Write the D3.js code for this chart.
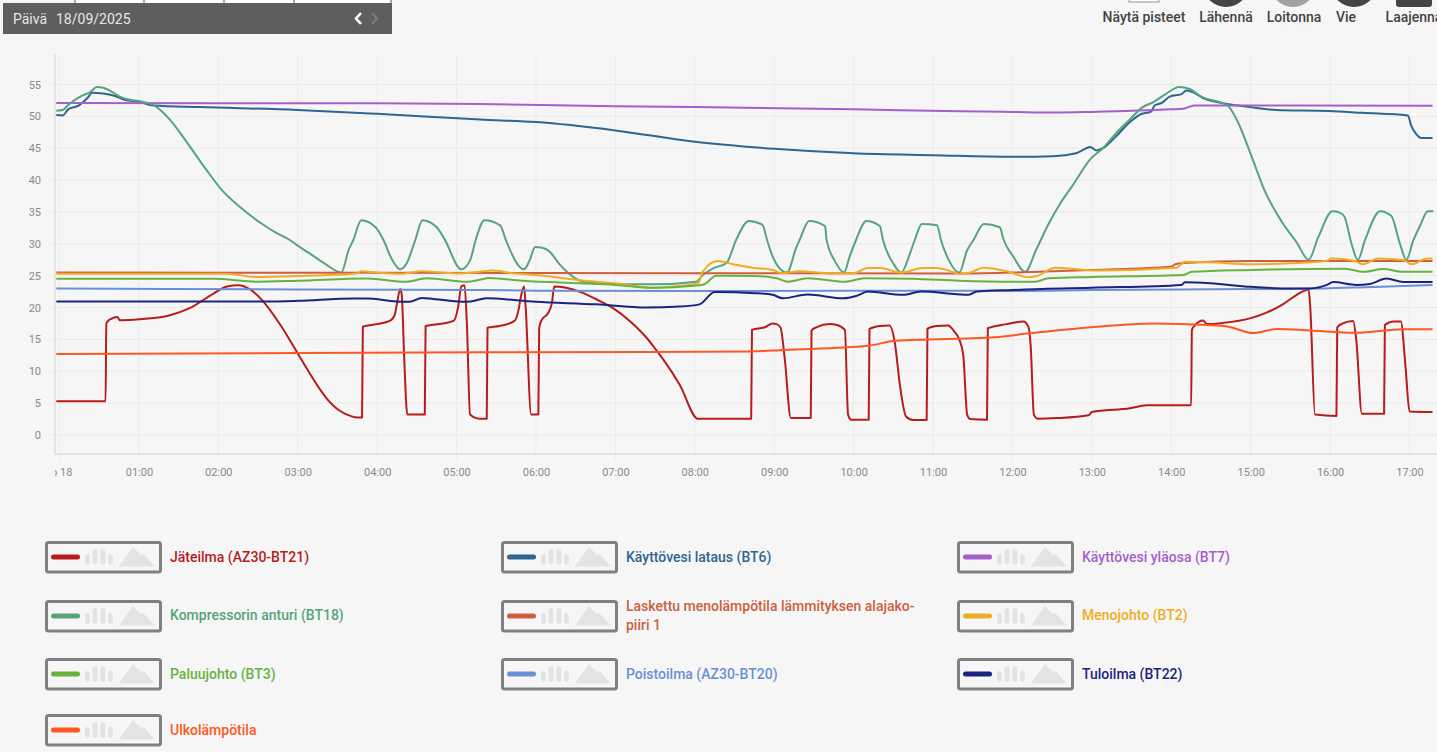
<!DOCTYPE html>
<html><head><meta charset="utf-8">
<script src="https://cdn.jsdelivr.net/npm/d3@7"></script>
<style>
html,body{margin:0;padding:0;background:#f6f6f6;overflow:hidden;width:1437px;height:752px}
svg{display:block;font-family:Roboto,sans-serif}
</style></head><body><svg id="c" width="1437" height="752"></svg>
<script>
// [hour of day, °C]
const jateilma=[[-0.04,5.3],[0.58,5.3],[0.59,17.6],[0.68,18.4],[0.73,18.5],[0.76,18],[1,18.15],[1.39,18.8],[1.64,19.9],[1.94,22.2],[2.11,23.3],[2.25,23.5],[2.4,22.85],[2.57,20.9],[2.78,17.3],[3,12.8],[3.2,8.7],[3.28,7.15],[3.36,5.8],[3.45,4.6],[3.53,3.8],[3.62,3.2],[3.72,2.8],[3.81,2.75],[3.82,17],[3.99,17.4],[4.16,17.9],[4.22,18.8],[4.25,20.65],[4.29,22.9],[4.31,22],[4.34,12.3],[4.38,3.2],[4.6,3.2],[4.61,17.1],[4.83,17.5],[4.97,18],[5.02,20.1],[5.06,23.3],[5.1,23.5],[5.13,17.5],[5.17,3.2],[5.29,2.55],[5.38,2.55],[5.39,16.85],[5.54,17.1],[5.73,17.9],[5.78,19.6],[5.81,21.7],[5.85,23.3],[5.87,20.1],[5.94,3.2],[6.03,3.2],[6.04,16.75],[6.07,18],[6.15,19.1],[6.2,20.65],[6.23,23.3],[6.38,23.1],[6.59,22.3],[6.76,21.3],[6.97,19.9],[7.18,17.9],[7.39,15.3],[7.51,13.4],[7.6,11.9],[7.81,7.9],[8.04,2.55],[8.71,2.55],[8.72,16.5],[8.88,16.9],[8.98,17.5],[9.03,17.4],[9.08,16.85],[9.13,12.3],[9.21,2.65],[9.46,2.65],[9.47,16.4],[9.53,16.9],[9.7,17.4],[9.78,17.3],[9.89,16.5],[9.93,3.2],[9.97,2.4],[10.19,2.4],[10.2,16.65],[10.33,17.1],[10.45,17.2],[10.52,14.4],[10.58,8.1],[10.66,2.9],[10.75,2.35],[10.92,2.35],[10.93,16.7],[11.04,17.1],[11.19,17.2],[11.27,16.2],[11.33,15],[11.38,12.6],[11.43,3.2],[11.47,2.5],[11.68,2.4],[11.69,16.75],[11.93,17.4],[12.14,17.8],[12.2,17],[12.23,13.9],[12.27,3.2],[12.32,2.55],[12.56,2.65],[12.96,3.1],[13,3.6],[13.48,4.2],[13.69,4.65],[14.25,4.65],[14.26,16.5],[14.29,17.1],[14.4,17.95],[14.45,17.4],[14.66,17.6],[14.99,18.3],[15.2,19.2],[15.41,20.55],[15.58,22],[15.73,22.85],[15.75,20.1],[15.81,3.2],[16.08,3],[16.09,16.9],[16.16,17.5],[16.29,17.9],[16.33,14.9],[16.4,3.35],[16.68,3.35],[16.69,17.25],[16.8,17.8],[16.89,17.8],[16.95,10.7],[17,3.7],[17.29,3.6]];
const kayttovesiLataus=[[-0.04,50.2],[0.04,50.15],[0.11,51.1],[0.24,51.7],[0.36,53],[0.41,53.7],[0.55,53.6],[0.7,53.2],[0.83,52.55],[1,52.3],[1.18,51.7],[1.77,51.45],[3,51],[4,50.4],[5.3,49.5],[6,49.1],[7,47.8],[8,46],[9,44.9],[10,44.2],[11,43.9],[12,43.65],[12.51,43.75],[12.8,44.2],[12.93,45],[12.98,45.2],[13.06,44.65],[13.14,45],[13.3,46.8],[13.47,49],[13.6,50.25],[13.75,50.8],[13.79,51.7],[13.88,52.1],[13.98,53.1],[14.13,53.5],[14.19,54.05],[14.27,53.8],[14.42,52.75],[14.59,52.2],[14.73,51.9],[14.99,51.45],[15.32,51],[15.99,50.85],[16.41,50.55],[16.98,50.15],[17.02,48.6],[17.08,47.3],[17.15,46.6],[17.29,46.6]];
const kayttovesiYlaosa=[[-0.04,52.1],[2,52.05],[4,52.05],[5.3,51.95],[7,51.6],[8,51.45],[10,51.1],[11.34,50.8],[12,50.7],[12.5,50.6],[13,50.7],[14,51.1],[14.15,51.2],[14.29,51.7],[15,51.7],[17.29,51.65]];
const kompressori=[[-0.04,50.9],[0.04,51],[0.11,51.8],[0.26,53.1],[0.39,53.85],[0.47,54.6],[0.55,54.5],[0.66,53.85],[0.76,53.1],[0.87,52.65],[1,52.4],[1.18,51.8],[1.39,49.5],[1.6,46],[1.85,41.6],[2.04,38.5],[2.25,36],[2.53,33.3],[2.73,31.7],[2.9,30.6],[2.99,29.8],[3.15,28.5],[3.34,26.9],[3.55,25.5],[3.64,29],[3.7,30.6],[3.8,33.7],[3.98,32.6],[4.08,30.6],[4.18,27.7],[4.29,26],[4.37,26.9],[4.48,30.6],[4.57,33.7],[4.75,32.6],[4.85,30.7],[5.06,26],[5.17,27.4],[5.25,31],[5.35,33.7],[5.55,32.9],[5.62,30.6],[5.85,26],[5.92,27.4],[5.99,29.5],[6.08,29.4],[6.17,28.8],[6.29,26.9],[6.4,25.5],[6.59,24.06],[7,23.7],[7.47,23.64],[8.02,24.06],[8.1,25.1],[8.23,26.15],[8.4,27],[8.52,30.6],[8.68,33.6],[8.85,33],[8.91,30.6],[8.98,28],[9.16,25.5],[9.28,29.5],[9.32,30.6],[9.44,33.6],[9.64,32.8],[9.66,30.6],[9.76,27.4],[9.88,25.5],[9.95,28],[10.03,30.6],[10.16,33.6],[10.33,32.8],[10.37,30.6],[10.5,26.9],[10.6,25.5],[10.71,28.5],[10.77,30.6],[10.86,33.1],[11.05,32.9],[11.1,30.6],[11.2,27.4],[11.33,25.5],[11.43,29],[11.51,30.6],[11.64,33.1],[11.84,32.6],[11.89,30.6],[12.01,28],[12.16,25.6],[12.3,29.1],[12.45,33],[12.59,36.1],[12.76,39.2],[12.99,43.4],[13.14,45],[13.3,47.3],[13.47,49.4],[13.64,51.45],[13.77,52.2],[13.93,53.5],[14.1,54.6],[14.23,54.3],[14.39,53],[14.56,52.4],[14.71,51.7],[14.82,49.6],[15.03,43.1],[15.17,38.5],[15.4,33.3],[15.58,30.2],[15.73,27.5],[15.85,31],[16.03,35.1],[16.12,34.9],[16.18,34.3],[16.27,30],[16.35,27.5],[16.44,30.6],[16.63,35.1],[16.77,34.4],[16.88,30],[16.96,27.5],[17.05,30.6],[17.13,32.75],[17.23,35.1],[17.3,35.1]];
const laskettu=[[-0.04,25.5],[4,25.45],[8,25.4],[11.3,25.35],[12,25.5],[13,25.9],[14,26.4],[14.05,26.8],[14.15,27],[15,27.3],[17.29,27.3]];
const menojohto=[[-0.04,25.3],[2.1,25.3],[2.48,24.8],[3,24.95],[3.74,25.35],[3.8,25.7],[3.99,25.5],[4.29,25.3],[4.56,25.7],[5,25.35],[5.29,25.6],[5.45,25.8],[5.7,25.4],[6,25.1],[6.55,24.3],[7,23.8],[7.47,23.1],[7.8,23.4],[8.04,23.8],[8.1,25.6],[8.29,27.3],[8.48,26.8],[8.73,26.25],[8.98,25.9],[9.09,25.4],[9.32,25.7],[9.7,25.35],[10,25.4],[10.18,26.2],[10.33,26.2],[10.6,25.5],[10.87,26.2],[11.04,26.2],[11.27,25.5],[11.33,25.25],[11.47,25.5],[11.63,26.25],[11.93,25.7],[12.2,24.75],[12.31,24.95],[12.54,26.25],[12.73,26.1],[13.06,25.8],[14.07,26.25],[14.17,27.2],[14.49,27.1],[15,26.8],[15.5,26.95],[15.96,27.35],[16.02,27.7],[16.3,27.35],[16.41,26.8],[16.61,27.7],[16.92,27.45],[17.03,26.8],[17.22,27.7],[17.29,27.7]];
const paluujohto=[[-0.04,24.5],[1.94,24.5],[2.48,24.05],[3,24.2],[3.87,24.55],[4.37,24.05],[4.62,24.6],[5.13,24.05],[5.29,24.35],[5.41,24.65],[5.83,24.2],[6.55,23.8],[7,23.55],[7.47,23.1],[8.02,23.45],[8.12,23.65],[8.27,25],[8.77,24.95],[9.03,24.6],[9.17,24.05],[9.42,24.6],[9.89,24.05],[10.14,24.6],[10.75,24.5],[11.33,24.2],[12,24.05],[12.29,24.05],[12.45,24.6],[13,24.8],[14.15,25.1],[14.26,25.6],[15,25.9],[16.19,26.1],[16.42,25.6],[16.67,26.05],[16.92,25.6],[17.29,25.6]];
const poistoilma=[[-0.04,23],[3,22.85],[5.3,22.75],[6,22.65],[8,22.6],[11.3,22.65],[12,22.6],[13,22.75],[15,22.9],[15.9,23],[16.45,23.2],[17.29,23.55]];
const tuloilma=[[-0.04,20.95],[2.57,20.95],[3,21.05],[3.7,21.4],[3.87,21.4],[4.24,20.95],[4.41,20.9],[4.56,21.5],[4.71,21.35],[5.13,20.9],[5.29,21.25],[5.37,21.45],[6,20.9],[6.76,20.5],[7.39,20],[7.81,20.15],[8.06,20.5],[8.25,22.45],[8.77,22.25],[8.98,22],[9.11,21.45],[9.42,22.05],[9.87,21.45],[10.03,21.8],[10.18,22.5],[10.62,22],[10.85,22.5],[11.3,22.1],[11.45,22],[11.55,22.5],[12,22.75],[13,23.1],[14.13,23.55],[14.17,23.95],[14.49,23.8],[15,23.25],[15.5,23],[15.75,23],[15.96,23.55],[16.04,24],[16.33,23.55],[16.5,23.7],[16.71,24.55],[16.92,24],[17.29,24]];
const ulkolampotila=[[-0.04,12.73],[3,12.85],[5.3,12.97],[8.71,13.1],[9.13,13.35],[10.18,14],[10.5,14.75],[10.7,14.9],[11.3,15.1],[11.72,15.3],[12.22,15.95],[12.98,16.9],[13.78,17.5],[14.45,17.25],[14.72,17],[15.03,16],[15.33,16.65],[15.75,16.4],[16.33,16.05],[16.92,16.6],[17.29,16.6]];

const seriesNames=["Jäteilma (AZ30-BT21)","Käyttövesi lataus (BT6)","Käyttövesi yläosa (BT7)","Kompressorin anturi (BT18)","Laskettu menolämpötila lämmityksen alajako-|piiri 1","Menojohto (BT2)","Paluujohto (BT3)","Poistoilma (AZ30-BT20)","Tuloilma (BT22)","Ulkolämpötila"];
const seriesData=[jateilma,kayttovesiLataus,kayttovesiYlaosa,kompressori,laskettu,menojohto,paluujohto,poistoilma,tuloilma,ulkolampotila];
const seriesColors=["#b71c1c","#2e6591","#a55fcc","#55a47d","#cd5f3e","#f0ad24","#68b23f","#6b8fd6","#1a237e","#ff5722"];
const hourTicks=d3.range(0,18);
const hourLabels=["to 18","01:00","02:00","03:00","04:00","05:00","06:00","07:00","08:00","09:00","10:00","11:00","12:00","13:00","14:00","15:00","16:00","17:00"];
const tempTicks=[0,5,10,15,20,25,30,35,40,45,50,55];
const topLabels=[["Näytä pisteet",1144],["Lähennä",1226],["Loitonna",1294],["Vie",1346],["Laajenna",1414]];

const svg=d3.select("#c");
const x=d3.scaleLinear().domain([0,17]).range([59.5,1409.5]);
const y=d3.scaleLinear().domain([0,55]).range([435,84.5]);
const plotL=55,plotR=1437,plotT=54,plotB=454;

// top strip
const defs=svg.append("defs");
defs.append("clipPath").attr("id","xc").append("rect").attr("x",plotL).attr("y",455).attr("width",plotR-plotL).attr("height",40);
svg.append("rect").attr("x",75).attr("y",0).attr("width",317).attr("height",4).attr("fill","#fff");
[75,144,224,294,391].forEach(v=>svg.append("rect").attr("x",v-.5).attr("y",0).attr("width",1).attr("height",4).attr("fill","#555"));
svg.append("rect").attr("x",3).attr("y",3).attr("width",389).attr("height",31).attr("fill","#5e5e5e");
svg.append("text").attr("x",13).attr("y",24).attr("font-size",14).attr("fill","#e6e6e6").text("Päivä");
svg.append("text").attr("x",56).attr("y",24).attr("font-size",14).attr("fill","#e6e6e6").text("18/09/2025");
svg.append("path").attr("d","M361,13l-5,5.5l5,5.5").attr("fill","none").attr("stroke","#fff").attr("stroke-width",2.6);
svg.append("path").attr("d","M372,13l5,5.5l-5,5.5").attr("fill","none").attr("stroke","#7d7d7d").attr("stroke-width",2);

// toolbar
svg.append("rect").attr("x",1129).attr("y",-20).attr("width",30).attr("height",22).attr("fill","#fff").attr("stroke","#b5b5b5").attr("stroke-width",1.5);
svg.append("circle").attr("cx",1226).attr("cy",-16).attr("r",23).attr("fill","#444");
svg.append("circle").attr("cx",1293).attr("cy",-16).attr("r",23).attr("fill","#a2a2a2");
svg.append("circle").attr("cx",1354).attr("cy",-16).attr("r",23).attr("fill","#444");
svg.append("rect").attr("x",1396).attr("y",-20).attr("width",36).attr("height",27).attr("rx",3).attr("fill","#444");
svg.selectAll("text.tb").data(topLabels).join("text").attr("class","tb").attr("x",d=>d[1]).attr("y",22).attr("text-anchor","middle").attr("font-size",14).attr("font-weight",500).attr("fill","#444").text(d=>d[0]);

// grid
svg.append("g").selectAll("line").data(tempTicks).join("line").attr("x1",49).attr("x2",plotR).attr("y1",d=>y(d)).attr("y2",d=>y(d)).attr("stroke","#ebebeb");
svg.append("g").selectAll("line").data(hourTicks).join("line").attr("x1",d=>x(d)).attr("x2",d=>x(d)).attr("y1",plotT).attr("y2",459).attr("stroke","#ebebeb");
svg.append("line").attr("x1",plotL).attr("x2",plotL).attr("y1",plotT).attr("y2",455).attr("stroke","#e4e4e4").attr("stroke-width",2);
svg.append("line").attr("x1",plotL-1).attr("x2",plotR).attr("y1",plotB).attr("y2",plotB).attr("stroke","#e4e4e4").attr("stroke-width",2);

// axes
const ay=svg.append("g").attr("transform",`translate(${plotL},0)`).call(d3.axisLeft(y).tickValues(tempTicks).tickSize(0).tickPadding(14));
ay.select(".domain").remove();
ay.selectAll("text").attr("font-size",11).attr("font-family","Roboto").attr("fill","#8a8a8a");
const ax=svg.append("g").attr("clip-path","url(#xc)").append("g").attr("transform",`translate(0,${plotB})`).call(d3.axisBottom(x).tickValues(hourTicks).tickFormat((d,i)=>hourLabels[i]).tickSize(0).tickPadding(14));
ax.select(".domain").remove();
ax.selectAll("text").attr("font-size",11).attr("font-family","Roboto").attr("fill","#8a8a8a");

// lines
const line=d3.line().x(d=>x(d[0])).y(d=>y(d[1])).curve(d3.curveMonotoneX);
svg.append("g").selectAll("path").data(seriesData).join("path").attr("d",line).attr("fill","none").attr("stroke",(d,i)=>seriesColors[i]).attr("stroke-width",2).attr("stroke-linejoin","round");

// legend
const colX=[45,501,957],rowY=[541,600,658,714],rowText=[21,20,21,21];
const leg=svg.append("g").selectAll("g").data(seriesNames).join("g").attr("transform",(d,i)=>`translate(${colX[i%3]},${rowY[Math.floor(i/3)]})`);
leg.append("rect").attr("x",1.5).attr("y",1.5).attr("width",114).attr("height",29.5).attr("rx",2).attr("fill","none").attr("stroke","#808080").attr("stroke-width",3);
leg.append("rect").attr("x",6).attr("y",13.5).attr("width",29).attr("height",5).attr("rx",2.5).attr("fill",(d,i)=>seriesColors[i]);
[[40,13,11],[47.5,8,16],[55.5,8,16],[63,13,11]].forEach(b=>leg.append("rect").attr("x",b[0]).attr("y",b[1]).attr("width",4.8).attr("height",b[2]).attr("rx",2.4).attr("fill","#e3e3e3"));
leg.append("path").attr("d","M74,25.5L88,6L96,14L98,13L110,25.5Z").attr("fill","#e3e3e3");
leg.each(function(d,i){
  const g=d3.select(this),parts=d.split("|"),base=rowText[Math.floor(i/3)];
  parts.forEach((p,j)=>g.append("text").attr("x",125).attr("y",base+(j-(parts.length-1)/2)*19).attr("font-size",14).attr("font-weight",500).attr("fill",seriesColors[i]).text(p));
});
</script></body></html>
